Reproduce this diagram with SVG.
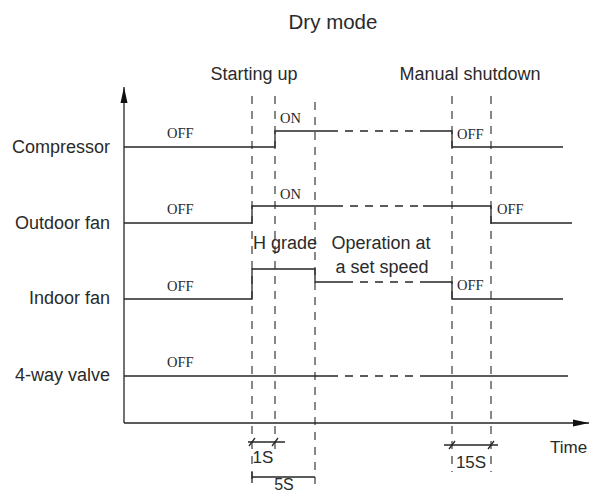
<svg xmlns="http://www.w3.org/2000/svg" width="592" height="494" viewBox="0 0 592 494">
<style>
.lbl{font-family:"Liberation Sans",Arial,sans-serif;font-size:18px;fill:#2a2a2a}
.ttl{font-family:"Liberation Sans",Arial,sans-serif;font-size:20.5px;fill:#2a2a2a}
.st{font-family:"Liberation Serif","Times New Roman",serif;font-size:14.5px;fill:#2a2a2a}
.sm{font-family:"Liberation Sans",Arial,sans-serif;font-size:17px;fill:#2a2a2a}
.ln{stroke:#262626;stroke-width:1.3;fill:none}
.ds{stroke:#262626;stroke-width:1.3;fill:none;stroke-dasharray:8 7}
.gd{stroke:#262626;stroke-width:1.1;fill:none;stroke-dasharray:8 7}
</style>
<defs>
<marker id="ah" markerWidth="16" markerHeight="8" refX="16" refY="4" orient="auto" markerUnits="userSpaceOnUse">
<path d="M0,0.5 L16,4 L0,7.5 Z" fill="#111"/>
</marker>
</defs>
<rect width="592" height="494" fill="#fff"/>
<text class="ttl" x="333" y="29" text-anchor="middle">Dry mode</text>
<g id="axes">
<line class="ln" x1="124" y1="423" x2="124" y2="87" marker-end="url(#ah)"/>
<line class="ln" x1="124" y1="423" x2="589" y2="423" marker-end="url(#ah)"/>
<text class="sm" x="550" y="453">Time</text>
</g>
<g id="guides">
<text class="lbl" x="254" y="80" text-anchor="middle">Starting up</text>
<text class="lbl" x="470" y="80" text-anchor="middle">Manual shutdown</text>
<line class="gd" x1="252" y1="96" x2="252" y2="484"/>
<line class="gd" x1="275" y1="96" x2="275" y2="453"/>
<line class="gd" x1="315" y1="102" x2="315" y2="484"/>
<line class="gd" x1="452" y1="96" x2="452" y2="472"/>
<line class="gd" x1="491" y1="96" x2="491" y2="472"/>
</g>
<g id="compressor">
<text class="lbl" x="110" y="153" text-anchor="end">Compressor</text>
<polyline class="ln" points="124,147 275,147 275,131 330,131"/>
<line class="ds" x1="330" y1="131" x2="420" y2="131"/>
<polyline class="ln" points="420,131 452,131 452,147 563,147"/>
<text class="st" x="167" y="138">OFF</text>
<text class="st" x="280" y="123">ON</text>
<text class="st" x="457" y="139">OFF</text>
</g>
<g id="outdoor-fan">
<text class="lbl" x="110" y="229" text-anchor="end">Outdoor fan</text>
<polyline class="ln" points="124,223 252,223 252,206 335,206"/>
<line class="ds" x1="335" y1="206" x2="423" y2="206"/>
<polyline class="ln" points="423,206 491,206 491,223 572,223"/>
<text class="st" x="167" y="214">OFF</text>
<text class="st" x="280" y="199">ON</text>
<text class="st" x="497" y="214">OFF</text>
</g>
<g id="indoor-fan">
<text class="lbl" x="110" y="304" text-anchor="end">Indoor fan</text>
<polyline class="ln" points="124,299 252,299 252,269 315,269 315,282 345,282"/>
<line class="ds" x1="345" y1="282" x2="423" y2="282"/>
<polyline class="ln" points="423,282 452,282 452,299 563,299"/>
<text class="st" x="167" y="291">OFF</text>
<text class="st" x="457" y="290">OFF</text>
<text class="lbl" x="285" y="249" text-anchor="middle">H grade</text>
<text class="lbl" x="381" y="249" text-anchor="middle">Operation at</text>
<text class="lbl" x="382" y="273" text-anchor="middle">a set speed</text>
</g>
<g id="four-way-valve">
<text class="lbl" x="110" y="381" text-anchor="end">4-way valve</text>
<line class="ln" x1="124" y1="376" x2="330" y2="376"/>
<line class="ds" x1="330" y1="376" x2="428" y2="376"/>
<line class="ln" x1="428" y1="376" x2="568" y2="376"/>
<text class="st" x="167" y="367">OFF</text>
</g>
<g id="durations">
<line class="ln" x1="248" y1="442" x2="285" y2="442"/>
<line class="ln" x1="249" y1="446" x2="255" y2="438"/>
<line class="ln" x1="272" y1="446" x2="278" y2="438"/>
<text class="sm" x="263" y="463" text-anchor="middle">1S</text>
<line class="ln" x1="252" y1="477" x2="315" y2="477"/>
<line class="ln" x1="252" y1="472" x2="252" y2="483"/>
<text class="sm" x="284" y="490" text-anchor="middle" style="font-size:16px">5S</text>
<line class="ln" x1="444" y1="445" x2="498" y2="445"/>
<line class="ln" x1="449" y1="449" x2="455" y2="441"/>
<line class="ln" x1="488" y1="449" x2="494" y2="441"/>
<text class="sm" x="471" y="468" text-anchor="middle">15S</text>
</g>
</svg>
